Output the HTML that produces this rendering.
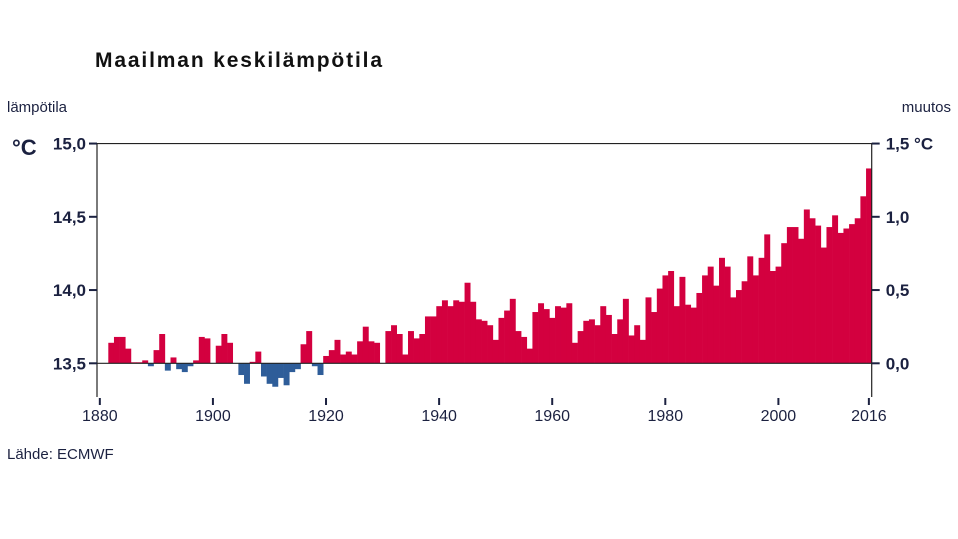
<!DOCTYPE html>
<html><head><meta charset="utf-8"><style>
body{margin:0;background:#fff;width:958px;height:539px;overflow:hidden}
svg{display:block;font-family:"Liberation Sans",sans-serif}
</style></head><body>
<svg id="chart" width="958" height="539" viewBox="0 0 958 539">
<text x="95" y="67" font-size="21" font-weight="bold" fill="#111" textLength="287">Maailman keskilämpötila</text>
<text x="7" y="112" font-size="15" fill="#1b2140">lämpötila</text>
<text x="951" y="112" font-size="15" fill="#1b2140" text-anchor="end">muutos</text>
<text x="12" y="155" font-size="22" font-weight="bold" fill="#1b2140">°C</text>
<text x="7" y="459" font-size="15" fill="#1b2140">Lähde: ECMWF</text>
<g id="bars"></g>
<g id="axes"></g>
</svg>
<script>
const years = [];
for (let y = 1880; y <= 2016; y++) years.push(y);
const anomalies = [
0,0,0.14,0.18,0.18,0.10,0.007,0.007,0.02,-0.02,
0.09,0.20,-0.05,0.04,-0.04,-0.06,-0.02,0.02,0.18,0.17,
0,0.12,0.20,0.14,0,-0.08,-0.14,0.01,0.08,-0.09,
-0.14,-0.16,-0.10,-0.15,-0.06,-0.04,0.13,0.22,-0.02,-0.08,
0.05,0.09,0.16,0.06,0.08,0.06,0.15,0.25,0.15,0.14,
0,0.22,0.26,0.20,0.06,0.22,0.17,0.20,0.32,0.32,
0.39,0.43,0.39,0.43,0.42,0.55,0.42,0.30,0.29,0.26,
0.16,0.31,0.36,0.44,0.22,0.18,0.10,0.35,0.41,0.37,
0.31,0.39,0.38,0.41,0.14,0.22,0.29,0.30,0.26,0.39,
0.33,0.20,0.30,0.44,0.19,0.26,0.16,0.45,0.35,0.51,
0.60,0.63,0.39,0.59,0.40,0.38,0.48,0.60,0.66,0.53,
0.72,0.66,0.45,0.50,0.56,0.73,0.60,0.72,0.88,0.63,
0.66,0.82,0.93,0.93,0.85,1.05,0.99,0.94,0.79,0.93,
1.01,0.89,0.92,0.95,0.99,1.14,1.33];
const leftTicks = ["15,0","14,5","14,0","13,5"];
const leftTickValues = [1.5,1.0,0.5,0];
const rightTicks = ["1,5","1,0","0,5","0,0"];
const xTickYears = [1880,1900,1920,1940,1960,1980,2000,2016];

const NS = "http://www.w3.org/2000/svg";
const X0 = 97, X1 = 871.7, Y0 = 363.3, PPU = 146.5, YB = 397;
const bw = (X1 - X0) / years.length;
const xs = i => X0 + i * bw;
const ys = v => Y0 - v * PPU;
const xc = yr => xs(yr - years[0]) + bw / 2;
function mk(tag, attrs, parent) {
  const e = document.createElementNS(NS, tag);
  for (const k in attrs) e.setAttribute(k, attrs[k]);
  parent.appendChild(e);
  return e;
}
const bars = document.getElementById('bars');
const axes = document.getElementById('axes');
anomalies.forEach((v, i) => {
  const y = Math.min(ys(v), Y0), h = Math.abs(ys(v) - Y0);
  const r = mk('rect', {x: xs(i), y: y, width: bw + 0.3, height: h, fill: v >= 0 ? '#d3003f' : '#2e5d99'}, bars);
  
  
});
// frame
let p = mk('path', {d: `M${X0} ${YB}V${ys(1.5)}H${X1}V${YB}`, fill: 'none', stroke: '#222', 'stroke-width': 1.2}, axes);


let bl = mk('line', {x1: X0, x2: X1, y1: Y0, y2: Y0, stroke: '#222', 'stroke-width': 1.2}, axes);


leftTickValues.forEach((v, i) => {
  const y = ys(v);
  let t = mk('line', {x1: X0 - 8, x2: X0, y1: y, y2: y, stroke: '#1b2140', 'stroke-width': 2}, axes);
  
  
  let l = mk('text', {x: X0 - 11, y: y + 6, 'font-size': 17, 'font-weight': 'bold', fill: '#1b2140', 'text-anchor': 'end'}, axes);
  l.textContent = leftTicks[i];
  
  
  let t2 = mk('line', {x1: X1, x2: X1 + 8, y1: y, y2: y, stroke: '#1b2140', 'stroke-width': 2}, axes);
  
  
  let l2 = mk('text', {x: X1 + 14, y: y + 6, 'font-size': 17, 'font-weight': 'bold', fill: '#1b2140'}, axes);
  l2.textContent = rightTicks[i] + (i === 0 ? ' °C' : '');
  
  
});
xTickYears.forEach(yr => {
  const x = xc(yr);
  let t = mk('line', {x1: x, x2: x, y1: YB + 1, y2: YB + 8, stroke: '#1b2140', 'stroke-width': 2}, axes);
  
  
  let l = mk('text', {x: x, y: YB + 24, 'font-size': 16, fill: '#1b2140', 'text-anchor': 'middle'}, axes);
  l.textContent = yr;
  
  
});
</script>
</body></html>
